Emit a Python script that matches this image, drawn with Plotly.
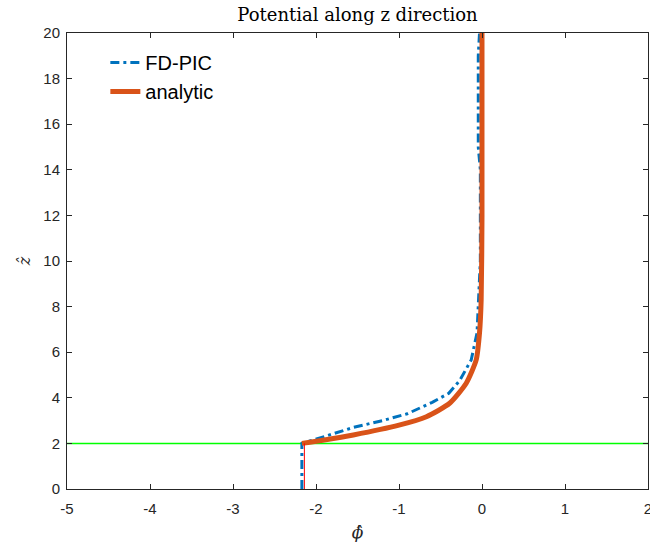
import plotly.graph_objects as go

# FD-PIC potential (phi_hat vs z_hat)
fd_phi = [-2.17, -2.17, -1.9, -1.55, -1.2, -0.9, -0.6, -0.4, -0.27, -0.13, -0.06, -0.04, -0.02, -0.02, -0.045, -0.045, -0.03]
fd_z   = [0.0,   2.0,   2.3,  2.7,   3.0,  3.3,  3.8,  4.2,  4.75,  5.66,  6.84,  8.3,   10.0,  14.0,  15.0,   19.0,   20.0]

# Analytic potential
an_phi = [-2.17, -1.9, -1.55, -1.0, -0.67, -0.39, -0.19, -0.07, -0.03, -0.01, 0.0, 0.0]
an_z   = [2.0,   2.15, 2.37,  2.8,  3.17,  3.76,  4.64,  5.66,  6.84,  8.3,  12.0, 20.0]

# Reference lines
wall_phi = [-2.14, -2.14]
wall_z = [0.0, 2.0]
sheath_phi = [-5, 2]
sheath_z = [2.0, 2.0]

x_ticks = [-5, -4, -3, -2, -1, 0, 1, 2]
y_ticks = [0, 2, 4, 6, 8, 10, 12, 14, 16, 18, 20]

fig = go.Figure()
fig.add_trace(go.Scatter(x=sheath_phi, y=sheath_z, mode="lines", showlegend=False,
                         line=dict(color="#00FF00", width=1.5)))
fig.add_trace(go.Scatter(x=fd_phi, y=fd_z, mode="lines", name="FD-PIC",
                         line=dict(color="#0072BD", width=3, dash="9px,4px,3px,4px")))
fig.add_trace(go.Scatter(x=an_phi, y=an_z, mode="lines", name="analytic",
                         line=dict(color="#D95319", width=5, shape="spline", smoothing=0.6)))
fig.add_trace(go.Scatter(x=wall_phi, y=wall_z, mode="lines", showlegend=False,
                         line=dict(color="#FF0000", width=1)))

axis_common = dict(
    showgrid=False, zeroline=False, showline=True, linecolor="#262626", linewidth=1,
    mirror="ticks", ticks="inside", ticklen=5, tickcolor="#262626", automargin=False,
    ticklabeloverflow="allow",
    tickfont=dict(family="Liberation Sans, Arial, sans-serif", size=15, color="#262626"),
)

fig.update_layout(
    width=650, height=551,
    margin=dict(l=67, r=2, t=33, b=62, autoexpand=False),
    paper_bgcolor="white", plot_bgcolor="white",
    title=dict(text="Potential along z direction", x=0.5, xref="paper", xanchor="center",
               y=1 - 15 / 551, yanchor="middle", automargin=False,
               font=dict(family="DejaVu Serif, Liberation Serif, serif", size=18, color="black")),
    xaxis=dict(range=[-5, 2], tickvals=x_ticks, ticktext=[str(v) for v in x_ticks],
               ticklabelstandoff=6,
               title=dict(text="<i>ϕ̂</i>", standoff=10,
                          font=dict(family="DejaVu Serif, Liberation Serif, serif", size=17, color="#262626")),
               **axis_common),
    yaxis=dict(range=[0, 20], tickvals=y_ticks, ticktext=[str(v) for v in y_ticks],
               ticklabelstandoff=3,
               title=dict(text="<i>ẑ</i>", standoff=8,
                          font=dict(family="DejaVu Serif, Liberation Serif, serif", size=16, color="#262626")),
               **axis_common),
    legend=dict(x=0.066, y=0.978, xanchor="left", yanchor="top", bgcolor="rgba(0,0,0,0)",
                font=dict(family="Liberation Sans, Arial, sans-serif", size=20, color="black")),
)

fig.write_html("out.html", config={"displayModeBar": False},
               post_script="document.body.style.margin='0';document.body.style.overflow='hidden';")
